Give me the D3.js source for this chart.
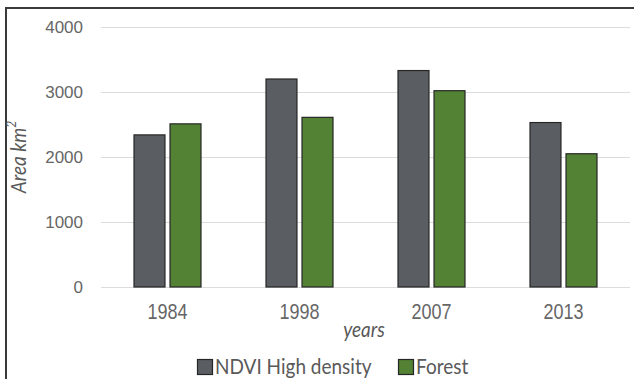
<!DOCTYPE html>
<html>
<head>
<meta charset="utf-8">
<script src="https://cdn.jsdelivr.net/npm/d3@7"></script>
<style>
  html, body { margin: 0; padding: 0; background: #fff; }
  svg { display: block; }
</style>
</head>
<body>
<svg id="chart" width="634" height="379"></svg>
<script>
// Area (km²) of high-density NDVI vegetation and forest by survey year
const years = ["1984", "1998", "2007", "2013"];
const seriesNames = ["NDVI High density", "Forest"];
const ndviHigh = [2340, 3200, 3330, 2530];
const forest = [2510, 2610, 3020, 2050];
const yTicks = [0, 1000, 2000, 3000, 4000];
const colors = ["#5a5e62", "#548235"];

const svg = d3.select("#chart");
const W = 634, H = 379;

// frame lines on top and left
svg.append("line").attr("x1", 6).attr("x2", W).attr("y1", 8).attr("y2", 8)
  .attr("stroke", "#3a3a3a").attr("stroke-width", 2);
svg.append("line").attr("x1", 6).attr("x2", 6).attr("y1", 7).attr("y2", H)
  .attr("stroke", "#3a3a3a").attr("stroke-width", 2);

const x0 = d3.scaleBand().domain(years).range([101.5, 629.5]).paddingInner(0).paddingOuter(0);
const groupW = 67;
const x1 = d3.scaleBand().domain(seriesNames)
  .range([x0.bandwidth() / 2 - groupW / 2, x0.bandwidth() / 2 + groupW / 2])
  .paddingInner(0.14).paddingOuter(0);
const y = d3.scaleLinear().domain([0, 4000]).range([287, 27]);

// horizontal gridlines
svg.append("g").selectAll("line").data(yTicks).join("line")
  .attr("x1", 101).attr("x2", 630)
  .attr("y1", d => Math.round(y(d)) + 0.5).attr("y2", d => Math.round(y(d)) + 0.5)
  .attr("stroke", "#dcdcdc").attr("stroke-width", 1);

// y tick labels
const yAxis = d3.axisLeft(y).tickValues(yTicks).tickFormat(d3.format("d")).tickSize(0).tickPadding(0);
const gy = svg.append("g").attr("transform", "translate(83,0)").call(yAxis);
gy.select(".domain").remove();
gy.selectAll("text").attr("font-family", "Liberation Sans, Arial, sans-serif")
  .attr("font-size", 17).attr("fill", "#666").attr("dy", "0.35em");

// bars
const rows = years.map((yr, i) => ({ year: yr, vals: [ndviHigh[i], forest[i]] }));
const groups = svg.append("g").selectAll("g").data(rows).join("g")
  .attr("transform", d => `translate(${x0(d.year)},0)`);
groups.selectAll("rect").data(d => d.vals.map((v, j) => ({ name: seriesNames[j], v, j })))
  .join("rect")
  .attr("x", d => x1(d.name))
  .attr("width", x1.bandwidth())
  .attr("y", d => y(d.v))
  .attr("height", d => y(0) - y(d.v))
  .attr("fill", d => colors[d.j])
  .attr("stroke", "#262626").attr("stroke-width", 1.2);

// x tick labels
const xAxis = d3.axisBottom(x0).tickSize(0).tickPadding(0);
const gx = svg.append("g").call(xAxis);
gx.select(".domain").remove();
gx.selectAll(".tick text")
  .attr("font-family", "Liberation Sans, Arial, sans-serif")
  .attr("font-size", 18).attr("fill", "#666")
  .attr("y", 0).attr("dy", 0)
  .attr("transform", "translate(0,319) scale(1,1.25)");

// axis titles
svg.append("text")
  .attr("transform", "translate(364,337) scale(1,1.15)")
  .attr("text-anchor", "middle")
  .attr("font-family", "Lato, sans-serif").attr("font-style", "italic")
  .attr("font-size", 19).attr("fill", "#595959")
  .text("years");

const yTitle = svg.append("text")
  .attr("transform", "translate(26,157) rotate(-90) scale(1,1.15)")
  .attr("text-anchor", "middle")
  .attr("font-family", "Lato, sans-serif").attr("font-style", "italic")
  .attr("font-size", 19).attr("fill", "#595959");
yTitle.append("tspan").text("Area km");
yTitle.append("tspan").attr("font-size", 12).attr("dy", "-0.7em").text("2");

// legend
const legendX = [197, 398];
const legend = svg.append("g").selectAll("g").data(seriesNames).join("g")
  .attr("transform", (d, i) => `translate(${legendX[i]},0)`);
legend.append("rect")
  .attr("x", 0.5).attr("y", 359.5).attr("width", 15).attr("height", 15)
  .attr("fill", (d, i) => colors[i]).attr("stroke", "#262626").attr("stroke-width", 1.2);
legend.append("text")
  .attr("transform", "translate(18,374) scale(1,1.1)")
  .attr("font-family", "Lato, sans-serif").attr("font-size", 19).attr("fill", "#595959")
  .text(d => d);
</script>
</body>
</html>
